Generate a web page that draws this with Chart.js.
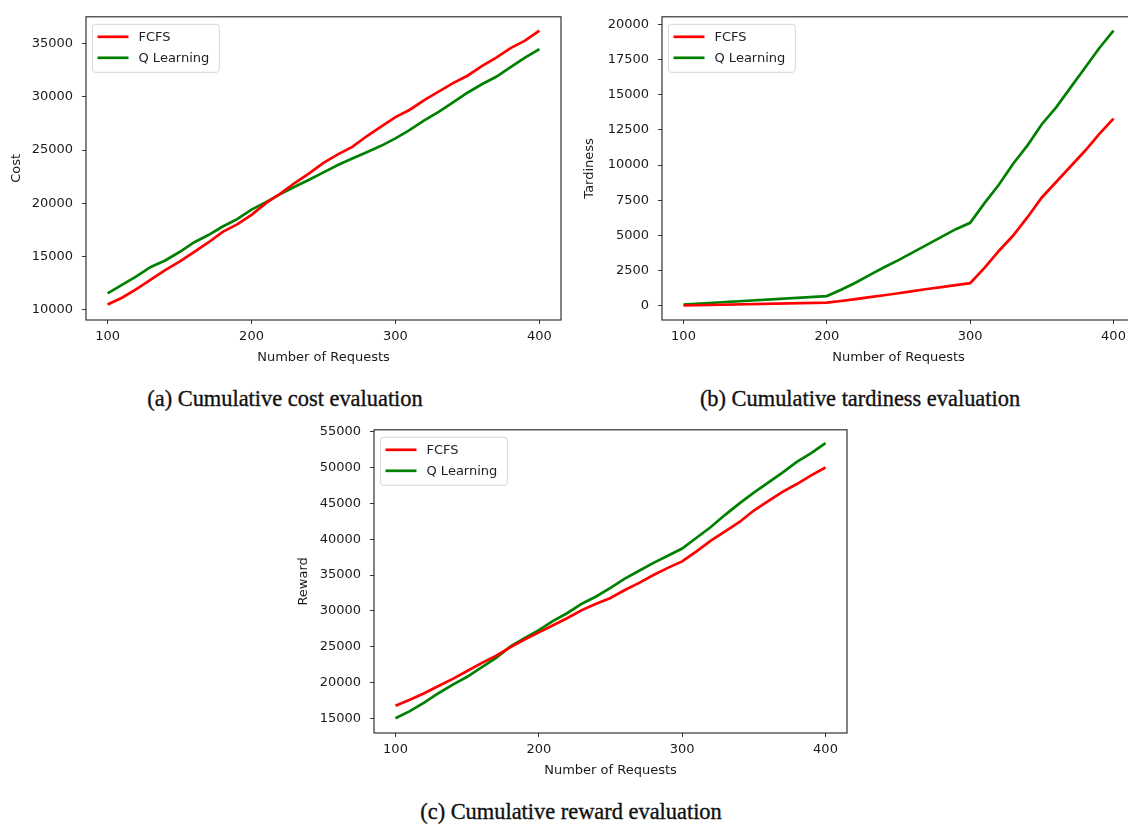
<!DOCTYPE html>
<html>
<head>
<meta charset="utf-8">
<script src="https://cdn.jsdelivr.net/npm/chart.js@4.4.1/dist/chart.umd.min.js"></script>
<style>
  body { margin: 0; width: 1128px; height: 825px; background: #fff; overflow: hidden; position: relative; }
  .plot { position: absolute; }
  .caption { position: absolute; width: 420px; text-align: center; font-family: "Liberation Serif", "Times New Roman", serif;
             font-size: 22.4px; line-height: 23px; color: #111; white-space: nowrap; -webkit-text-stroke: 0.35px #111; }
</style>
</head>
<body>
<div class="plot" style="left:0px;top:0px;width:570px;height:369px"><canvas id="costChart"></canvas></div>
<div class="plot" style="left:570px;top:0px;width:570px;height:369px"><canvas id="tardChart"></canvas></div>
<div class="plot" style="left:280px;top:413px;width:577px;height:369px"><canvas id="rewardChart"></canvas></div>

<div class="caption" style="left:75px;top:387px">(a) Cumulative cost evaluation</div>
<div class="caption" style="left:650px;top:387px">(b) Cumulative tardiness evaluation</div>
<div class="caption" style="left:361px;top:800px">(c) Cumulative reward evaluation</div>

<script>
// x values (number of requests)
const requests = [100, 110, 120, 130, 140, 150, 160, 170, 180, 190, 200, 210, 220, 230, 240, 250,
                  260, 270, 280, 290, 300, 310, 320, 330, 340, 350, 360, 370, 380, 390, 400];
const tardRequests = [100, 200, 210, 220, 230, 240, 250, 260, 270, 280, 290, 300,
                      310, 320, 330, 340, 350, 360, 370, 380, 390, 400];

// (a) cost
const costFcfs = [10460, 11100, 11900, 12800, 13700, 14500, 15400, 16300, 17300, 18000, 18900, 20000, 20900, 21900, 22800, 23800,
                  24600, 25300, 26300, 27200, 28100, 28800, 29700, 30500, 31300, 32000, 32900, 33700, 34600, 35300, 36250];
const costQ = [11500, 12300, 13100, 14000, 14600, 15400, 16300, 17000, 17800, 18500, 19400, 20100, 20850, 21550, 22200, 22900,
               23600, 24200, 24800, 25400, 26100, 26900, 27800, 28600, 29500, 30400, 31200, 31900, 32800, 33700, 34500];

// (b) tardiness
const tardFcfs = [30, 230, 350, 480, 620, 760, 900, 1050, 1200, 1340, 1480, 1620,
                  2700, 3900, 5000, 6300, 7700, 8800, 9900, 11000, 12200, 13300];
const tardQ = [100, 700, 1150, 1650, 2200, 2750, 3250, 3800, 4350, 4900, 5450, 5900,
               7300, 8600, 10100, 11400, 12900, 14100, 15500, 16900, 18300, 19550];

// (c) reward
const rewardFcfs = [16750, 17600, 18500, 19500, 20500, 21600, 22700, 23700, 24900, 26000, 27000, 28000, 29000, 30100, 31000, 31800,
                    32900, 33900, 35000, 36000, 36900, 38300, 39800, 41100, 42400, 44000, 45300, 46600, 47700, 48900, 50000];
const rewardQ = [15000, 16000, 17200, 18500, 19700, 20800, 22100, 23400, 25000, 26200, 27300, 28600, 29700, 31000, 32000, 33200,
                 34500, 35600, 36700, 37700, 38700, 40200, 41700, 43400, 45000, 46500, 47900, 49300, 50800, 52000, 53400];

// tick labels
const xTicks = [100, 200, 300, 400];
const costTicks = [10000, 15000, 20000, 25000, 30000, 35000];
const tardTicks = [0, 2500, 5000, 7500, 10000, 12500, 15000, 17500, 20000];
const rewardTicks = [15000, 20000, 25000, 30000, 35000, 40000, 45000, 50000, 55000];

const seriesNames = ['FCFS', 'Q Learning'];
const seriesColors = ['#ff0000', '#008000'];

const tickFont = { family: 'DejaVu Sans', size: 13 };

// axes frame + matplotlib style legend inside the plot area
const frameLegend = {
    id: 'frameLegend',
    afterDraw(chart) {
        const ctx = chart.ctx;
        const a = chart.chartArea;
        ctx.save();
        ctx.strokeStyle = '#333';
        ctx.lineWidth = 1.2;
        ctx.strokeRect(a.left, a.top, a.right - a.left, a.bottom - a.top);

        ctx.font = '13px "DejaVu Sans"';
        let maxW = 0;
        chart.data.datasets.forEach(ds => { maxW = Math.max(maxW, ctx.measureText(ds.label).width); });
        const lx = a.left + 6.5, ly = a.top + 7.5;
        const w = 46 + maxW + 10, h = 48;
        ctx.beginPath();
        ctx.roundRect(lx, ly, w, h, 3);
        ctx.fillStyle = 'rgba(255,255,255,0.8)';
        ctx.fill();
        ctx.strokeStyle = '#d6d6d6';
        ctx.lineWidth = 1;
        ctx.stroke();

        chart.data.datasets.forEach((ds, i) => {
            const y = ly + 12.5 + i * 21;
            ctx.strokeStyle = ds.borderColor;
            ctx.lineWidth = 2.7;
            ctx.beginPath();
            ctx.moveTo(lx + 5, y);
            ctx.lineTo(lx + 36, y);
            ctx.stroke();
            ctx.fillStyle = '#222';
            ctx.textBaseline = 'middle';
            ctx.fillText(ds.label, lx + 46, y + 1);
        });
        ctx.restore();
    }
};

function makeChart(id, xs, series, yTicks, yMin, yMax, yLabel, pad, yWidth) {
    const ctx = document.getElementById(id).getContext('2d');
    return new Chart(ctx, {
        type: 'line',
        data: {
            datasets: series.map((vals, i) => ({
                label: seriesNames[i],
                data: xs.map((x, j) => ({ x: x, y: vals[j] })),
                borderColor: seriesColors[i],
                backgroundColor: seriesColors[i],
                borderWidth: 2.7,
                pointRadius: 0,
                tension: 0,
                fill: false
            }))
        },
        options: {
            responsive: true,
            maintainAspectRatio: false,
            animation: false,
            layout: { padding: pad },
            plugins: {
                legend: { display: false },
                tooltip: { enabled: false }
            },
            scales: {
                x: {
                    type: 'linear',
                    min: 85,
                    max: 415,
                    afterBuildTicks: s => { s.ticks = xTicks.map(v => ({ value: v })); },
                    afterFit: s => { s.height = 49; },
                    grid: { drawOnChartArea: false, tickLength: 4, color: '#333' },
                    border: { display: false },
                    ticks: { color: '#1a1a1a', font: tickFont, padding: 5, maxRotation: 0, callback: v => String(v) },
                    title: { display: true, text: 'Number of Requests', color: '#1a1a1a', font: tickFont }
                },
                y: {
                    type: 'linear',
                    min: yMin,
                    max: yMax,
                    afterBuildTicks: s => { s.ticks = yTicks.map(v => ({ value: v })); },
                    afterFit: s => { s.width = yWidth; },
                    grid: { drawOnChartArea: false, tickLength: 4, color: '#333' },
                    border: { display: false },
                    ticks: { color: '#1a1a1a', font: tickFont, padding: 9, callback: v => String(v) },
                    title: { display: true, text: yLabel, color: '#1a1a1a', font: tickFont }
                }
            }
        },
        plugins: [frameLegend]
    });
}

makeChart('costChart', requests, [costFcfs, costQ], costTicks, 9000, 37550, 'Cost',
          { left: 5, top: 10, right: 9, bottom: 0 }, 81);
makeChart('tardChart', tardRequests, [tardFcfs, tardQ], tardTicks, -1000, 20530, 'Tardiness',
          { left: 8, top: 10, right: 5, bottom: 0 }, 84);
makeChart('rewardChart', requests, [rewardFcfs, rewardQ], rewardTicks, 12950, 55270, 'Reward',
          { left: 12, top: 10, right: 10, bottom: 0 }, 82);
</script>
</body>
</html>
